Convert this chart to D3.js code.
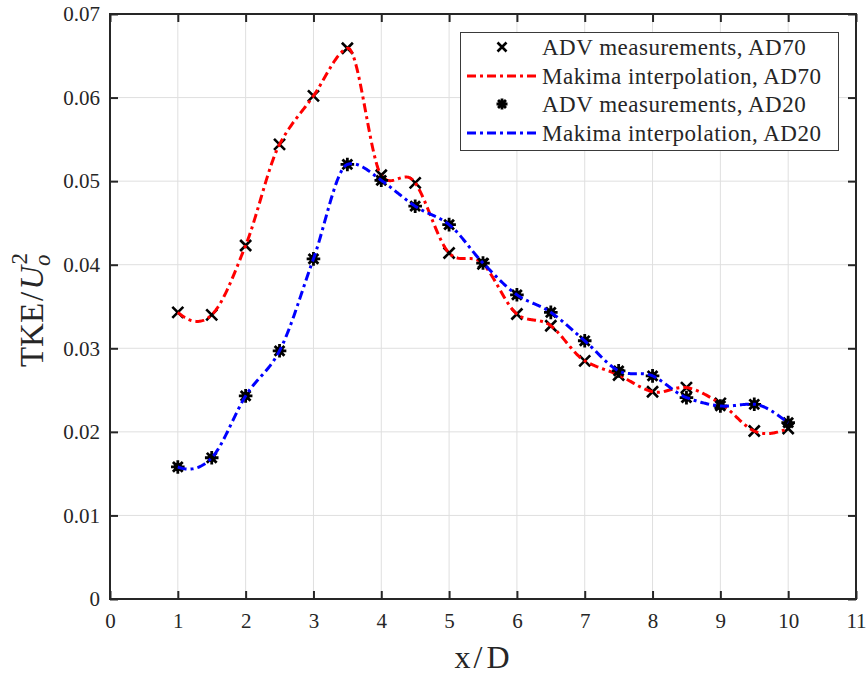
<!DOCTYPE html>
<html>
<head>
<meta charset="utf-8">
<script src="https://cdn.jsdelivr.net/npm/d3@7"></script>
<style>
  html, body { margin: 0; padding: 0; background: #fff; }
  svg { display: block; }
  text { font-family: "Liberation Serif", "DejaVu Serif", serif; fill: #262626; }
</style>
</head>
<body>
<svg id="chart" width="867" height="676"></svg>
<script>
// Streamwise stations (x/D) and measured turbulent kinetic energy
const xPos = [1, 1.5, 2, 2.5, 3, 3.5, 4, 4.5, 5, 5.5, 6, 6.5, 7, 7.5, 8, 8.5, 9, 9.5, 10];
const tkeAD70 = [0.0343, 0.0340, 0.0423, 0.0544, 0.0602, 0.0659, 0.0507, 0.0498, 0.0414, 0.0401,
                 0.0341, 0.0327, 0.0285, 0.0268, 0.0248, 0.0253, 0.0234, 0.0201, 0.0204];
const tkeAD20 = [0.0158, 0.0169, 0.0243, 0.0297, 0.0407, 0.0520, 0.0501, 0.0470, 0.0448, 0.0402,
                 0.0364, 0.0343, 0.0309, 0.0273, 0.0267, 0.0241, 0.0231, 0.0233, 0.0211];
const xTicks = [0, 1, 2, 3, 4, 5, 6, 7, 8, 9, 10, 11];
const yTicks = [0, 0.01, 0.02, 0.03, 0.04, 0.05, 0.06, 0.07];
const legendLabels = ["ADV measurements, AD70", "Makima interpolation, AD70",
                      "ADV measurements, AD20", "Makima interpolation, AD20"];

const svg = d3.select("#chart");
const plotL = 110, plotR = 856, plotT = 14, plotB = 599;

const x = d3.scaleLinear().domain([0, 11]).range([plotL, plotR]);
const y = d3.scaleLinear().domain([0, 0.07]).range([plotB, plotT]);

const axisColor = "#262626";
const dash = "9,4,3,4";

// Modified Akima (makima) piecewise cubic Hermite interpolation
function makima(xs, ys, samplesPerSeg) {
  const n = xs.length;
  const d = [];
  for (let i = 0; i < n - 1; i++) d.push((ys[i + 1] - ys[i]) / (xs[i + 1] - xs[i]));
  const dm1 = 2 * d[0] - d[1];
  const dm2 = 2 * dm1 - d[0];
  const dn = 2 * d[n - 2] - d[n - 3];
  const dn1 = 2 * dn - d[n - 2];
  const D = [dm2, dm1, ...d, dn, dn1]; // D[k+2] = delta_k
  const s = [];
  for (let i = 0; i < n; i++) {
    const a = D[i], b = D[i + 1], c = D[i + 2], e = D[i + 3];
    const w1 = Math.abs(e - c) + Math.abs(e + c) / 2;
    const w2 = Math.abs(b - a) + Math.abs(b + a) / 2;
    s.push(w1 + w2 === 0 ? 0 : (w1 * b + w2 * c) / (w1 + w2));
  }
  const pts = [];
  for (let i = 0; i < n - 1; i++) {
    const h = xs[i + 1] - xs[i];
    for (let k = 0; k < samplesPerSeg; k++) {
      const t = k / samplesPerSeg;
      const h00 = 2 * t ** 3 - 3 * t ** 2 + 1;
      const h10 = t ** 3 - 2 * t ** 2 + t;
      const h01 = -2 * t ** 3 + 3 * t ** 2;
      const h11 = t ** 3 - t ** 2;
      pts.push([xs[i] + t * h,
        h00 * ys[i] + h10 * h * s[i] + h01 * ys[i + 1] + h11 * h * s[i + 1]]);
    }
  }
  pts.push([xs[n - 1], ys[n - 1]]);
  return pts;
}

// Grid
const grid = svg.append("g").attr("stroke", "#dfdfdf").attr("stroke-width", 1);
grid.selectAll("line.gx").data(xTicks.slice(1, -1)).join("line")
  .attr("x1", d => x(d)).attr("x2", d => x(d)).attr("y1", plotT).attr("y2", plotB);
grid.selectAll("line.gy").data(yTicks.slice(1, -1)).join("line")
  .attr("x1", plotL).attr("x2", plotR).attr("y1", d => y(d)).attr("y2", d => y(d));

// Axes with inward ticks on all four sides
const tickLen = 8;
const axB = svg.append("g").attr("transform", `translate(0,${plotB})`)
  .call(d3.axisBottom(x).tickValues(xTicks).tickSizeInner(-tickLen).tickSizeOuter(0).tickPadding(14).tickFormat(d3.format("d")));
const axT = svg.append("g").attr("transform", `translate(0,${plotT})`)
  .call(d3.axisTop(x).tickValues(xTicks).tickSizeInner(-tickLen).tickSizeOuter(0).tickFormat(""));
const axL = svg.append("g").attr("transform", `translate(${plotL},0)`)
  .call(d3.axisLeft(y).tickValues(yTicks).tickSizeInner(-tickLen).tickSizeOuter(0).tickPadding(10).tickFormat(d => d === 0 ? "0" : d3.format(".2f")(d)));
const axR = svg.append("g").attr("transform", `translate(${plotR},0)`)
  .call(d3.axisRight(y).tickValues(yTicks).tickSizeInner(-tickLen).tickSizeOuter(0).tickFormat(""));
[axB, axT, axL, axR].forEach(g => {
  g.attr("font-family", null);
  g.select(".domain").remove();
  g.selectAll(".tick line").attr("stroke", axisColor).attr("stroke-width", 2);
  g.selectAll(".tick text").attr("fill", axisColor).attr("font-size", 21);
});
svg.append("rect").attr("x", plotL).attr("y", plotT).attr("width", plotR - plotL).attr("height", plotB - plotT)
  .attr("fill", "none").attr("stroke", axisColor).attr("stroke-width", 2);

// Marker shapes
function drawCross(g, cx, cy, r) {
  g.append("path").attr("d", `M${cx - r},${cy - r}L${cx + r},${cy + r}M${cx - r},${cy + r}L${cx + r},${cy - r}`)
    .attr("stroke", "#000").attr("stroke-width", 2.6).attr("fill", "none");
}
function drawStar(g, cx, cy, r) {
  const q = r * 0.72;
  g.append("circle").attr("cx", cx).attr("cy", cy).attr("r", r * 0.62).attr("fill", "#000");
  g.append("path").attr("d",
    `M${cx - r},${cy}L${cx + r},${cy}M${cx},${cy - r}L${cx},${cy + r}` +
    `M${cx - q},${cy - q}L${cx + q},${cy + q}M${cx - q},${cy + q}L${cx + q},${cy - q}`)
    .attr("stroke", "#000").attr("stroke-width", 2.8).attr("fill", "none");
}

const line = d3.line().x(d => x(d[0])).y(d => y(d[1]));
const plot = svg.append("g");

// AD70 markers and curve
const m70 = plot.append("g");
xPos.forEach((v, i) => drawCross(m70, x(v), y(tkeAD70[i]), 5.5));
plot.append("path").datum(makima(xPos, tkeAD70, 40)).attr("d", line)
  .attr("fill", "none").attr("stroke", "#ff0000").attr("stroke-width", 3).attr("stroke-dasharray", dash);

// AD20 markers and curve
const m20 = plot.append("g");
xPos.forEach((v, i) => drawStar(m20, x(v), y(tkeAD20[i]), 6.8));
plot.append("path").datum(makima(xPos, tkeAD20, 40)).attr("d", line)
  .attr("fill", "none").attr("stroke", "#0000ff").attr("stroke-width", 3).attr("stroke-dasharray", dash);

// Legend
const lg = svg.append("g");
lg.append("rect").attr("x", 460.5).attr("y", 32.5).attr("width", 378).attr("height", 118)
  .attr("fill", "#fff").attr("stroke", "#3a3a3a").attr("stroke-width", 1);
const rowY = [47, 76, 104, 133];
drawCross(lg, 502, rowY[0], 4.5);
lg.append("line").attr("x1", 467).attr("x2", 536).attr("y1", rowY[1]).attr("y2", rowY[1])
  .attr("stroke", "#ff0000").attr("stroke-width", 3).attr("stroke-dasharray", dash);
drawStar(lg, 502, rowY[2], 5.5);
lg.append("line").attr("x1", 467).attr("x2", 536).attr("y1", rowY[3]).attr("y2", rowY[3])
  .attr("stroke", "#0000ff").attr("stroke-width", 3).attr("stroke-dasharray", dash);
lg.selectAll("text.lab").data(legendLabels).join("text")
  .attr("x", 542).attr("y", (d, i) => rowY[i] + 8)
  .attr("font-size", 23).attr("letter-spacing", 0.5).attr("fill", "#000").text(d => d);

// Axis labels
const xl = svg.append("text").attr("x", 482).attr("y", 668).attr("text-anchor", "middle")
  .attr("font-size", 32).attr("fill", "#000");
xl.append("tspan").text("x");
xl.append("tspan").attr("dx", 3).text("/");
xl.append("tspan").attr("dx", 4).text("D");

const yl = svg.append("text").attr("transform", "translate(43,310) rotate(-90)")
  .attr("text-anchor", "middle").attr("font-size", 33).attr("fill", "#000");
yl.append("tspan").text("TKE");
yl.append("tspan").attr("dx", 2).text("/");
yl.append("tspan").attr("dx", 2).attr("font-style", "italic").text("U");
yl.append("tspan").attr("font-style", "italic").attr("font-size", 23).attr("dy", 7).text("o");
yl.append("tspan").attr("font-size", 23).attr("dx", -10).attr("dy", -23).text("2");
</script>
</body>
</html>
